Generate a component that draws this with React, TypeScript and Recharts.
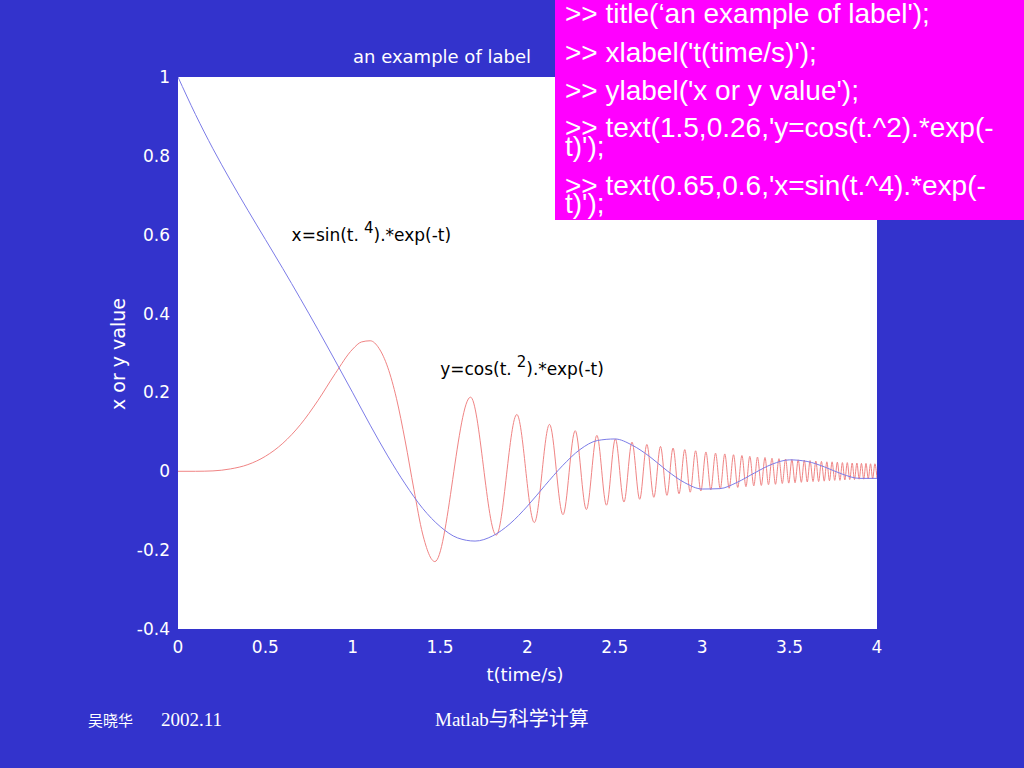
import React from 'react';
import { LineChart, Line, XAxis, YAxis, CartesianGrid, ReferenceDot } from 'recharts';

// y = cos(t.^2).*exp(-t), read every 0.1 s
const cosTimes = [
  0, 0.1, 0.2, 0.3, 0.4, 0.5, 0.6, 0.7, 0.8, 0.9, 1.0, 1.1, 1.2, 1.3, 1.4, 1.5, 1.6, 1.7, 1.8, 1.9, 2.0,
  2.1, 2.2, 2.3, 2.4, 2.5, 2.6, 2.7, 2.8, 2.9, 3.0, 3.1, 3.2, 3.3, 3.4, 3.5, 3.6, 3.7, 3.8, 3.9, 4.0,
];
const cosValues = [
  1, 0.905, 0.818, 0.738, 0.662, 0.588, 0.514, 0.438, 0.36, 0.28, 0.199, 0.117, 0.039, -0.032, -0.094,
  -0.14, -0.169, -0.177, -0.164, -0.133, -0.088, -0.036, 0.014, 0.055, 0.078, 0.082, 0.066, 0.037, 0.001,
  -0.029, -0.045, -0.044, -0.028, -0.004, 0.018, 0.029, 0.025, 0.011, -0.007, -0.018, -0.018,
];

// x = sin(t.^4).*exp(-t): the slow rise, then each crest and trough of the fast part
const sinTimes = [
  0, 0.1, 0.2, 0.3, 0.4, 0.5, 0.6, 0.7, 0.8, 0.9, 1.0, 1.05, 1.1, 1.15, 1.2, 1.25, 1.3, 1.35, 1.4, 1.47,
  1.674, 1.821, 1.939, 2.039, 2.126, 2.203, 2.273, 2.337, 2.397, 2.452,
  2.503, 2.552, 2.598, 2.642, 2.683, 2.723, 2.761, 2.798, 2.833, 2.867,
  2.9, 2.931, 2.962, 2.992, 3.021, 3.049, 3.076, 3.103, 3.129, 3.154,
  3.179, 3.203, 3.227, 3.25, 3.272, 3.295, 3.316, 3.338, 3.359, 3.379,
  3.399, 3.419, 3.439, 3.458, 3.477, 3.495, 3.513, 3.531, 3.549, 3.567,
  3.584, 3.601, 3.617, 3.634, 3.65, 3.666, 3.682, 3.698, 3.713, 3.728,
  3.743, 3.758, 3.773, 3.788, 3.802, 3.816, 3.83, 3.844, 3.858, 3.871,
  3.885, 3.898, 3.911, 3.924, 3.937, 3.95, 3.963, 3.975, 3.988, 4.0,
];
const sinValues = [
  0, 0, 0.001, 0.006, 0.017, 0.038, 0.071, 0.118, 0.179, 0.248, 0.31, 0.328, 0.331, 0.312, 0.264, 0.185,
  0.077, -0.046, -0.159, -0.229,
  0.188, -0.162, 0.144, -0.13, 0.119, -0.11, 0.103, -0.097, 0.091, -0.086,
  0.082, -0.078, 0.074, -0.071, 0.068, -0.066, 0.063, -0.061, 0.059, -0.057,
  0.055, -0.053, 0.052, -0.05, 0.049, -0.047, 0.046, -0.045, 0.044, -0.043,
  0.042, -0.041, 0.04, -0.039, 0.038, -0.037, 0.036, -0.036, 0.035, -0.034,
  0.033, -0.033, 0.032, -0.031, 0.031, -0.03, 0.03, -0.029, 0.029, -0.028,
  0.028, -0.027, 0.027, -0.026, 0.026, -0.026, 0.025, -0.025, 0.024, -0.024,
  0.024, -0.023, 0.023, -0.023, 0.022, -0.022, 0.022, -0.021, 0.021, -0.021,
  0.021, -0.02, 0.02, -0.02, 0.02, -0.019, 0.019, -0.019, 0.019, -0.018,
];

const xTicks = [0, 0.5, 1, 1.5, 2, 2.5, 3, 3.5, 4];
const yTicks = [-0.4, -0.2, 0, 0.2, 0.4, 0.6, 0.8, 1];

const commandLines = [
  '>> title(‘an example of label\');',
  ">> xlabel('t(time/s)');",
  ">> ylabel('x or y value');",
  ">> text(1.5,0.26,'y=cos(t.^2).*exp(-",
  "t)');",
  ">> text(0.65,0.6,'x=sin(t.^4).*exp(-",
  "t)');",
];

const cosData = cosTimes.map((t, i) => ({ t, v: cosValues[i] }));
const sinData = sinTimes.map((t, i) => ({ t, v: sinValues[i] }));

const SANS = '"DejaVu Sans", Verdana, sans-serif';
const tickStyle = { fill: '#ffffff', fontSize: 17, fontFamily: SANS };

function PowerLabel(props: any) {
  const { viewBox, base, power, tail } = props;
  if (!viewBox) return null;
  return (
    <text x={viewBox.x} y={viewBox.y} dy={6} fill="#000" fontSize={17} fontFamily={SANS}>
      {base}
      <tspan dx={5} dy={-8} fontSize={15}>
        {power}
      </tspan>
      <tspan dy={8}>{tail}</tspan>
    </text>
  );
}

export default function App() {
  const cmdBaselines = [23, 62, 100, 137, 156, 195, 213];
  return (
    <div
      style={{
        position: 'absolute',
        left: 0,
        top: 0,
        width: 1024,
        height: 768,
        background: '#3333cc',
        overflow: 'hidden',
      }}
    >
      <LineChart width={1024} height={768} margin={{ top: 77, right: 147, bottom: 109, left: 118 }}>
        <CartesianGrid fill="#ffffff" stroke="none" horizontal={false} vertical={false} />
        <XAxis
          type="number"
          dataKey="t"
          domain={[0, 4]}
          ticks={xTicks}
          interval={0}
          allowDataOverflow
          axisLine={false}
          tickLine={false}
          tickMargin={6}
          height={30}
          tick={tickStyle}
        />
        <YAxis
          type="number"
          domain={[-0.4, 1]}
          ticks={yTicks}
          interval={0}
          allowDataOverflow
          axisLine={false}
          tickLine={false}
          width={60}
          tick={tickStyle}
        />
        <Line
          data={sinData}
          dataKey="v"
          type="monotone"
          stroke="#f08484"
          strokeWidth={1}
          dot={false}
          isAnimationActive={false}
        />
        <Line
          data={cosData}
          dataKey="v"
          type="monotone"
          stroke="#7c7ce8"
          strokeWidth={1}
          dot={false}
          isAnimationActive={false}
        />
        <ReferenceDot
          x={0.65}
          y={0.6}
          r={0}
          fill="none"
          stroke="none"
          label={<PowerLabel base="x=sin(t." power="4" tail=").*exp(-t)" />}
        />
        <ReferenceDot
          x={1.5}
          y={0.26}
          r={0}
          fill="none"
          stroke="none"
          label={<PowerLabel base="y=cos(t." power="2" tail=").*exp(-t)" />}
        />
      </LineChart>

      <svg
        width={1024}
        height={768}
        style={{ position: 'absolute', left: 0, top: 0, pointerEvents: 'none' }}
      >
        <text x={442} y={63} textAnchor="middle" fill="#fff" fontSize={18} fontFamily={SANS}>
          an example of label
        </text>
        <text x={525} y={681} textAnchor="middle" fill="#fff" fontSize={18} fontFamily={SANS}>
          t(time/s)
        </text>
        <text
          x={125}
          y={354}
          textAnchor="middle"
          fill="#fff"
          fontSize={19}
          fontFamily={SANS}
          transform="rotate(-90 125 354)"
        >
          x or y value
        </text>

        <rect x={555} y={0} width={469} height={220} fill="#ff00ff" />
        {commandLines.map((line, i) => (
          <text
            key={i}
            x={565}
            y={cmdBaselines[i]}
            fill="#fff"
            fontSize={28}
            fontFamily='"Liberation Sans", Arial, sans-serif'
          >
            {line}
          </text>
        ))}

        <text x={88} y={726} fill="#fff" fontSize={15} fontFamily='"Noto Sans CJK SC", sans-serif'>
          吴晓华
        </text>
        <text x={161} y={726} fill="#fff" fontSize={19} fontFamily='"Liberation Serif", serif'>
          2002.11
        </text>
        <text x={435} y={726} fill="#fff" fontSize={19} fontFamily='"Liberation Serif", serif'>
          Matlab
          <tspan fontSize={20} fontFamily='"Noto Sans CJK SC", sans-serif'>
            与科学计算
          </tspan>
        </text>
      </svg>
    </div>
  );
}
